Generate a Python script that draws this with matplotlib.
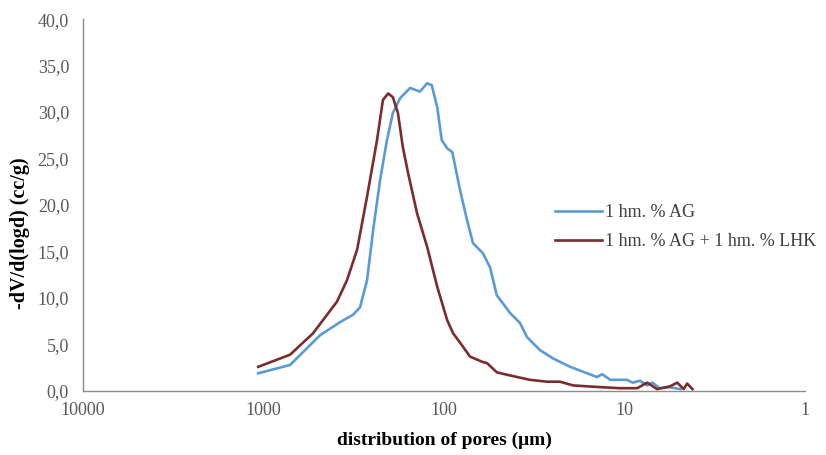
import numpy as np
import matplotlib
matplotlib.use('Agg')
import matplotlib.pyplot as plt
from matplotlib.ticker import FixedLocator, FuncFormatter

# pore diameter (um) and -dV/d(logd) (cc/g)
ag_d = [1070, 713, 486, 377, 319, 292, 267, 247, 226, 207, 192, 175, 154, 136,
        124, 117, 109, 103, 96, 90, 81.5, 74.6, 69.1, 60.8, 55.6, 51, 43.1,
        37.9, 34.7, 29.4, 24.9, 20.0, 16.1, 14.2, 13.3, 12.0, 9.7, 9.0, 8.2,
        7.5, 7.0, 6.4, 5.6, 4.9]
ag_v = [1.9, 2.8, 6.0, 7.4, 8.2, 9.0, 11.9, 17.3, 22.7, 27.0, 29.9, 31.5, 32.6,
        32.2, 33.1, 32.9, 30.5, 27.0, 26.1, 25.7, 21.6, 18.4, 15.9, 14.8, 13.3,
        10.3, 8.4, 7.3, 5.8, 4.4, 3.5, 2.6, 1.9, 1.5, 1.8, 1.2, 1.2, 0.9, 1.1,
        0.6, 0.9, 0.3, 0.4, 0.2]

lhk_d = [1070, 713, 532, 392, 345, 303, 267, 235, 218, 204, 192, 180, 169, 158,
         141, 124, 109, 96, 89, 81.5, 71.8, 60.8, 57.8, 50.9, 41.5, 33.4, 26.9,
         22.8, 19.3, 16.1, 13.2, 10.6, 8.5, 7.5, 6.6, 5.6, 5.1, 4.7, 4.5, 4.2]
lhk_v = [2.6, 3.9, 6.2, 9.6, 11.9, 15.2, 20.9, 27.0, 31.3, 32.0, 31.6, 29.9,
         26.2, 23.4, 19.1, 15.5, 11.2, 7.6, 6.2, 5.2, 3.7, 3.1, 3.0, 2.0, 1.6,
         1.2, 1.0, 1.0, 0.6, 0.5, 0.4, 0.3, 0.3, 0.9, 0.2, 0.5, 0.9, 0.2, 0.8,
         0.2]

labels = ['1 hm. % AG', '1 hm. % AG + 1 hm. % LHK']
x_ticks = [10000, 1000, 100, 10, 1]
y_ticks = [0, 5, 10, 15, 20, 25, 30, 35, 40]

plt.rcParams['font.family'] = ['Liberation Serif', 'DejaVu Serif']

fig = plt.figure(figsize=(8.26, 4.55), dpi=100)
ax = fig.add_axes([0.1005, 0.1407, 0.8741, 0.8173])

ax.plot(ag_d, ag_v, color='#5b9bd5', lw=1.9, label=labels[0])
ax.plot(lhk_d, lhk_v, color='#7b2c2c', lw=1.9, label=labels[1])

ax.set_xscale('log')
ax.set_xlim(10000, 1)
ax.set_ylim(0, 40)
ax.xaxis.set_major_locator(FixedLocator(x_ticks))
ax.xaxis.set_minor_locator(FixedLocator([]))
ax.xaxis.set_major_formatter(FuncFormatter(lambda v, p: '%d' % v))
ax.yaxis.set_major_locator(FixedLocator(y_ticks))
ax.yaxis.set_major_formatter(FuncFormatter(lambda v, p: ('%.1f' % v).replace('.', ',')))

for s in ['top', 'right']:
    ax.spines[s].set_visible(False)
for s in ['left', 'bottom']:
    ax.spines[s].set_color('#8c8c8c')
    ax.spines[s].set_linewidth(1.0)
ax.tick_params(length=0, labelsize=13, colors='#595959')
ax.tick_params(axis='y', pad=10)
ax.tick_params(axis='x', pad=8)

ax.set_xlabel('distribution of pores (\u03bcm)', fontsize=14, fontweight='bold')
ax.xaxis.set_label_coords(0.5, -0.11)
ax.set_ylabel('-dV/d(logd) (cc/g)', fontsize=14.5, fontweight='bold')
ax.yaxis.set_label_coords(-0.073, 0.425)

ax.legend(loc='upper left', bbox_to_anchor=(0.631, 0.546), frameon=False,
          fontsize=13, handlelength=2.6, handletextpad=0.15, labelspacing=0.65,
          labelcolor='#404040')

fig.savefig('out.png', dpi=100)
